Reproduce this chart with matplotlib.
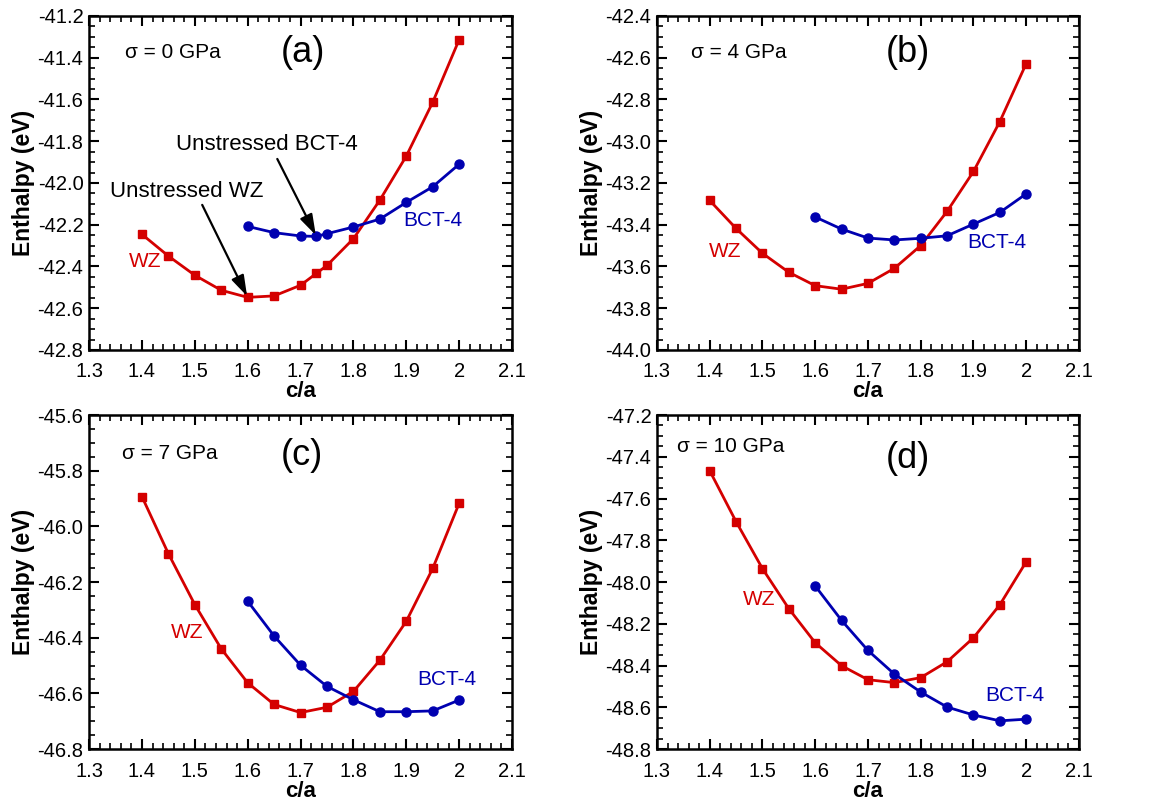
import numpy as np
import matplotlib
matplotlib.use('Agg')
import matplotlib.pyplot as plt
from matplotlib.ticker import MultipleLocator, FuncFormatter

plt.rcParams['font.family'] = ['Liberation Sans', 'DejaVu Sans']

# c/a grids
ca_wz = [1.4, 1.45, 1.5, 1.55, 1.6, 1.65, 1.7, 1.75, 1.8, 1.85, 1.9, 1.95, 2.0]
ca_bct = [1.6, 1.65, 1.7, 1.75, 1.8, 1.85, 1.9, 1.95, 2.0]
# the unstressed case has an extra point at c/a = 1.73
ca_wz0 = [1.4, 1.45, 1.5, 1.55, 1.6, 1.65, 1.7, 1.73, 1.75, 1.8, 1.85, 1.9, 1.95, 2.0]
ca_bct0 = [1.6, 1.65, 1.7, 1.73, 1.75, 1.8, 1.85, 1.9, 1.95, 2.0]

# enthalpies (eV)
wz_0 = [-42.246, -42.350, -42.442, -42.514, -42.548, -42.541, -42.490, -42.433,
        -42.395, -42.267, -42.082, -41.871, -41.613, -41.313]
bct_0 = [-42.208, -42.238, -42.254, -42.256, -42.243, -42.211, -42.173, -42.093,
         -42.018, -41.910]

wz_4 = [-43.284, -43.418, -43.537, -43.628, -43.692, -43.709, -43.681, -43.609,
        -43.500, -43.336, -43.145, -42.906, -42.628]
bct_4 = [-43.363, -43.421, -43.464, -43.473, -43.465, -43.453, -43.397, -43.341,
         -43.252]

wz_7 = [-45.893, -46.098, -46.281, -46.440, -46.562, -46.640, -46.669, -46.650,
        -46.593, -46.481, -46.341, -46.151, -45.917]
bct_7 = [-46.269, -46.394, -46.499, -46.575, -46.623, -46.666, -46.666, -46.663,
         -46.624]

wz_10 = [-47.467, -47.711, -47.936, -48.128, -48.291, -48.401, -48.468, -48.482,
         -48.458, -48.382, -48.267, -48.109, -47.903]
bct_10 = [-48.019, -48.184, -48.328, -48.441, -48.527, -48.599, -48.637, -48.665,
          -48.657]

panels = [
    dict(tag='(a)', stress='σ = 0 GPa', xw=ca_wz0, yw=wz_0, xb=ca_bct0, yb=bct_0,
         ylim=(-42.8, -41.2), rect=[0.0773, 0.5658, 0.3672, 0.4144],
         wz_pos=(1.406, -42.374), bct_pos=(1.951, -42.182), stress_pos=(1.459, -41.377),
         tag_pos=(1.705, -41.377)),
    dict(tag='(b)', stress='σ = 4 GPa', xw=ca_wz, yw=wz_4, xb=ca_bct, yb=bct_4,
         ylim=(-44.0, -42.4), rect=[0.5703, 0.5658, 0.3663, 0.4144],
         wz_pos=(1.429, -43.526), bct_pos=(1.945, -43.483), stress_pos=(1.455, -42.577),
         tag_pos=(1.775, -42.577)),
    dict(tag='(c)', stress='σ = 7 GPa', xw=ca_wz, yw=wz_7, xb=ca_bct, yb=bct_7,
         ylim=(-46.8, -45.6), rect=[0.0773, 0.0707, 0.3672, 0.4144],
         wz_pos=(1.485, -46.38), bct_pos=(1.977, -46.552), stress_pos=(1.453, -45.74),
         tag_pos=(1.703, -45.744)),
    dict(tag='(d)', stress='σ = 10 GPa', xw=ca_wz, yw=wz_10, xb=ca_bct, yb=bct_10,
         ylim=(-48.8, -47.2), rect=[0.5703, 0.0707, 0.3663, 0.4144],
         wz_pos=(1.493, -48.086), bct_pos=(1.979, -48.546), stress_pos=(1.44, -47.349),
         tag_pos=(1.775, -47.406)),
]

red = '#d40000'
blue = '#0000b0'
arrow_kw = dict(arrowstyle='-|>,head_length=1.25,head_width=0.4',
                color='black', lw=1.6, shrinkA=0, shrinkB=1)

fig = plt.figure(figsize=(11.52, 8.06), dpi=100)

for p in panels:
    ax = fig.add_axes(p['rect'])
    ax.plot(p['xw'], p['yw'], '-s', color=red, lw=2, ms=6, zorder=3)
    ax.plot(p['xb'], p['yb'], '-o', color=blue, lw=2, ms=6.5, zorder=3)

    ax.set_xlim(1.3, 2.1)
    ax.set_ylim(*p['ylim'])
    ax.xaxis.set_major_locator(MultipleLocator(0.1))
    ax.xaxis.set_minor_locator(MultipleLocator(0.02))
    ax.yaxis.set_major_locator(MultipleLocator(0.2))
    ax.yaxis.set_minor_locator(MultipleLocator(0.05))
    ax.xaxis.set_major_formatter(FuncFormatter(lambda v, pos: '%g' % round(v, 2)))
    ax.yaxis.set_major_formatter(FuncFormatter(lambda v, pos: '%.1f' % v))
    ax.tick_params(which='both', direction='in', top=True, right=True,
                   labelsize=14.5, width=1.5)
    ax.tick_params(which='major', length=7)
    ax.tick_params(which='minor', length=4.5, width=1.2)
    ax.tick_params(axis='x', which='major', pad=9)
    ax.tick_params(axis='y', which='major', pad=4)
    for s in ax.spines.values():
        s.set_linewidth(1.8)

    ax.set_xlabel('c/a', fontsize=16, fontweight='bold', labelpad=0)
    ax.set_ylabel('Enthalpy (eV)', fontsize=16.5, fontweight='bold', labelpad=2)

    ax.text(*p['wz_pos'], 'WZ', color=red, fontsize=15, ha='center', va='center')
    ax.text(*p['bct_pos'], 'BCT-4', color=blue, fontsize=15, ha='center', va='center')
    ax.text(*p['stress_pos'], p['stress'], fontsize=15, ha='center', va='center')
    ax.text(*p['tag_pos'], p['tag'], fontsize=26, ha='center', va='center')

    if p['tag'] == '(a)':
        ax.text(1.637, -41.818, 'Unstressed BCT-4', fontsize=16, ha='center', va='center')
        ax.text(1.485, -42.043, 'Unstressed WZ', fontsize=16, ha='center', va='center')
        ax.annotate('', xy=(ca_bct0[3], bct_0[3]), xytext=(1.656, -41.885),
                    arrowprops=arrow_kw)
        ax.annotate('', xy=(ca_wz0[4], wz_0[4]), xytext=(1.514, -42.105),
                    arrowprops=arrow_kw)

fig.savefig('out.png', dpi=100)
